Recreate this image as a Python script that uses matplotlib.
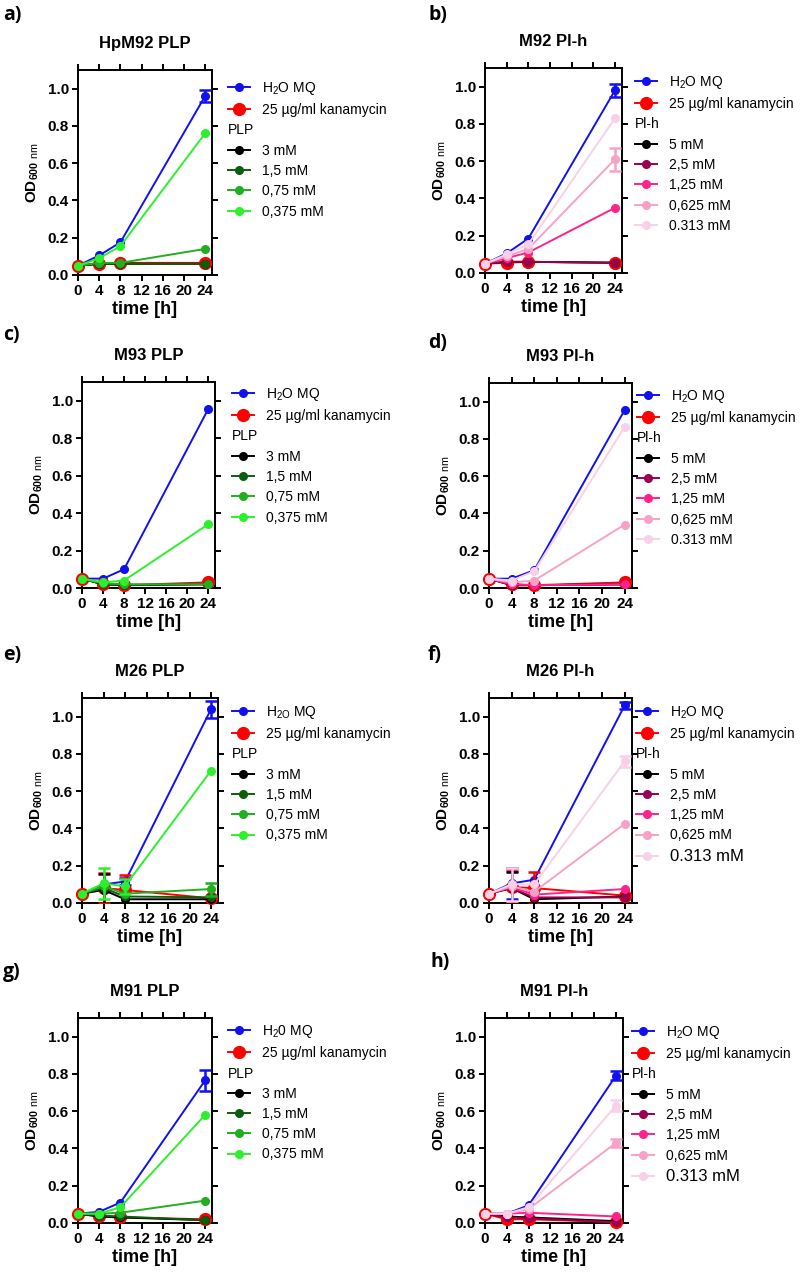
import numpy as np
import matplotlib
matplotlib.use('Agg')
import matplotlib.pyplot as plt
from matplotlib.lines import Line2D
from matplotlib.text import Text
from matplotlib.legend_handler import HandlerBase

plt.rcParams['font.family'] = ['Liberation Sans', 'DejaVu Sans']
plt.rcParams['mathtext.fontset'] = 'custom'
plt.rcParams['mathtext.rm'] = 'Liberation Sans'
plt.rcParams['mathtext.bf'] = 'Liberation Sans:bold'
plt.rcParams['mathtext.default'] = 'regular'

# данные: время и значения OD600
time_h = [0, 4, 8, 24]
xticks = [0, 4, 8, 12, 16, 20, 24]
yticks = [0.0, 0.2, 0.4, 0.6, 0.8, 1.0]

plp_labels = ['3 mM', '1,5 mM', '0,75 mM', '0,375 mM']
plh_labels = ['5 mM', '2,5 mM', '1,25 mM', '0,625 mM', '0.313 mM']
kana_label = '25 µg/ml kanamycin'

# a) HpM92 PLP
a_water = [0.05, 0.105, 0.175, 0.96]
a_water_err = [0, 0, 0, 0.03]
a_kana = [0.05, 0.06, 0.065, 0.065]
a_kana_err = [0, 0, 0, 0]
a_conc = [[0.05, 0.06, 0.06, 0.06],
          [0.05, 0.06, 0.06, 0.06],
          [0.05, 0.065, 0.065, 0.14],
          [0.05, 0.09, 0.155, 0.76]]
a_conc_err = [[0, 0, 0, 0], [0, 0, 0, 0], [0, 0, 0, 0], [0, 0, 0, 0]]

# b) M92 Pl-h
b_water = [0.05, 0.105, 0.185, 0.98]
b_water_err = [0, 0, 0, 0.035]
b_kana = [0.05, 0.055, 0.06, 0.055]
b_kana_err = [0, 0, 0, 0]
b_conc = [[0.05, 0.06, 0.06, 0.055],
          [0.05, 0.06, 0.06, 0.055],
          [0.05, 0.08, 0.11, 0.35],
          [0.05, 0.09, 0.13, 0.61],
          [0.05, 0.10, 0.155, 0.83]]
b_conc_err = [[0, 0, 0, 0], [0, 0, 0, 0], [0, 0, 0, 0], [0, 0, 0, 0.06], [0, 0, 0, 0]]

# c) M93 PLP
c_water = [0.05, 0.05, 0.10, 0.955]
c_water_err = [0, 0, 0, 0]
c_kana = [0.05, 0.02, 0.015, 0.03]
c_kana_err = [0, 0, 0, 0]
c_conc = [[0.05, 0.02, 0.015, 0.02],
          [0.05, 0.02, 0.015, 0.02],
          [0.05, 0.025, 0.02, 0.02],
          [0.05, 0.03, 0.04, 0.34]]
c_conc_err = [[0, 0, 0, 0], [0, 0, 0, 0], [0, 0, 0, 0], [0, 0, 0, 0]]

# d) M93 Pl-h
d_water = [0.05, 0.05, 0.095, 0.955]
d_water_err = [0, 0, 0, 0]
d_kana = [0.05, 0.02, 0.015, 0.03]
d_kana_err = [0, 0, 0, 0]
d_conc = [[0.05, 0.015, 0.015, 0.02],
          [0.05, 0.015, 0.015, 0.02],
          [0.05, 0.02, 0.015, 0.02],
          [0.05, 0.03, 0.04, 0.34],
          [0.05, 0.04, 0.09, 0.865]]
d_conc_err = [[0, 0, 0, 0], [0, 0, 0, 0], [0, 0, 0, 0], [0, 0, 0, 0], [0, 0, 0, 0]]

# e) M26 PLP
e_water = [0.05, 0.10, 0.115, 1.04]
e_water_err = [0, 0, 0.02, 0.045]
e_kana = [0.05, 0.08, 0.07, 0.025]
e_kana_err = [0, 0.08, 0.08, 0]
e_conc = [[0.05, 0.07, 0.02, 0.02],
          [0.05, 0.08, 0.035, 0.03],
          [0.05, 0.09, 0.05, 0.075],
          [0.05, 0.105, 0.09, 0.71]]
e_conc_err = [[0, 0.085, 0, 0], [0, 0, 0, 0], [0, 0, 0, 0.035], [0, 0.085, 0.04, 0]]

# f) M26 Pl-h
f_water = [0.05, 0.105, 0.125, 1.06]
f_water_err = [0, 0.085, 0, 0.02]
f_kana = [0.05, 0.085, 0.08, 0.04]
f_kana_err = [0, 0.085, 0.085, 0]
f_conc = [[0.05, 0.08, 0.02, 0.035],
          [0.05, 0.08, 0.03, 0.03],
          [0.05, 0.085, 0.045, 0.075],
          [0.05, 0.09, 0.06, 0.425],
          [0.05, 0.10, 0.10, 0.76]]
f_conc_err = [[0, 0.085, 0, 0], [0, 0, 0, 0], [0, 0, 0, 0], [0, 0, 0, 0], [0, 0.09, 0, 0.03]]

# g) M91 PLP
g_water = [0.05, 0.06, 0.11, 0.765]
g_water_err = [0, 0, 0, 0.055]
g_kana = [0.05, 0.035, 0.03, 0.02]
g_kana_err = [0, 0, 0, 0]
g_conc = [[0.05, 0.035, 0.03, 0.015],
          [0.05, 0.04, 0.035, 0.015],
          [0.05, 0.05, 0.055, 0.12],
          [0.05, 0.05, 0.085, 0.58]]
g_conc_err = [[0, 0, 0, 0], [0, 0, 0, 0], [0, 0, 0, 0], [0, 0, 0, 0]]

# h) M91 Pl-h
h_water = [0.05, 0.05, 0.095, 0.79]
h_water_err = [0, 0, 0, 0.025]
h_kana = [0.05, 0.02, 0.02, 0.005]
h_kana_err = [0, 0, 0, 0]
h_conc = [[0.05, 0.035, 0.03, 0.01],
          [0.05, 0.03, 0.025, 0.005],
          [0.05, 0.05, 0.055, 0.035],
          [0.05, 0.05, 0.075, 0.43],
          [0.05, 0.05, 0.085, 0.63]]
h_conc_err = [[0, 0, 0, 0], [0, 0, 0, 0], [0, 0, 0, 0], [0, 0, 0, 0.02], [0, 0, 0, 0.03]]

# цвета
blue = '#1010f0'
red = '#ff0000'
plp_colors = ['black', '#0b5e0b', '#1faf1f', '#2cf02c']
plh_colors = ['black', '#990050', '#ff2288', '#f7a1c9', '#f8d0e8']

W, H = 800, 1273
fig = plt.figure(figsize=(W / 100, H / 100), dpi=100)


def rect(l, r, t, b):
    return [l / W, 1 - b / H, (r - l) / W, (b - t) / H]


class HeaderHandler(HandlerBase):
    # заголовок группы в легенде (PLP / Pl-h), выровнен по началу маркеров
    def create_artists(self, legend, orig_handle, xdescent, ydescent,
                       width, height, fontsize, trans):
        t = Text(-xdescent, 0, orig_handle.get_text(), fontsize=fontsize,
                 ha='left', va='baseline', transform=trans)
        return [t]


def series(ax, y, err, color, ms, z):
    y = np.array(y)
    err = np.array(err)
    ax.plot(time_h, y, color=color, marker='o', ms=ms, lw=1.4,
            mec=color, clip_on=False, zorder=z)
    m = err > 0
    if m.any():
        ax.errorbar(np.array(time_h)[m], y[m], yerr=err[m], fmt='none',
                    ecolor=color, elinewidth=1.8, capsize=4, capthick=1.8,
                    zorder=z)


def panel(box, title, water, water_err, kana, kana_err, conc, conc_err,
          labels, colors, header, water_label, leg_xy, big_last=False):
    ax = fig.add_axes(rect(*box))
    series(ax, water, water_err, blue, 5.5, 3)
    series(ax, kana, kana_err, red, 8.5, 4)
    for i, (y, e, c) in enumerate(zip(conc, conc_err, colors)):
        series(ax, y, e, c, 5.5, 5 + i)

    ax.set_xlim(0, 25.3)
    ax.set_ylim(0, 1.1)
    ax.set_xticks(xticks)
    ax.set_yticks(yticks)
    ax.set_yticklabels(['%.1f' % v for v in yticks])
    ax.tick_params(direction='out', top=True, right=True, labeltop=False,
                   labelright=False, length=4.5, width=1.4, labelsize=11, pad=2)
    for lab in ax.get_xticklabels() + ax.get_yticklabels():
        lab.set_fontweight('bold')
    for s in ax.spines.values():
        s.set_linewidth(1.4)
    ax.set_title(title, fontsize=12, fontweight='bold', pad=16)
    ax.set_xlabel('time [h]', fontsize=13, fontweight='bold', labelpad=2)
    ax.set_ylabel(r'OD$_{\mathbf{600}\ \mathrm{nm}}$', fontsize=11,
                  fontweight='bold', labelpad=5)

    hdr = Text(text=header)
    handles = [Line2D([], [], color=blue, marker='o', ms=5.5, lw=1.4),
               Line2D([], [], color=red, marker='o', ms=8.5, lw=1.4),
               hdr]
    handles += [Line2D([], [], color=c, marker='o', ms=5.5, lw=1.4) for c in colors]
    leg = ax.legend(handles, [water_label, kana_label, ''] + labels,
                    handler_map={hdr: HeaderHandler()},
                    loc='upper left', bbox_to_anchor=(leg_xy[0] / W, 1 - leg_xy[1] / H),
                    bbox_transform=fig.transFigure, frameon=False, fontsize=10,
                    handlelength=1.6, handletextpad=0.85, labelspacing=0.45,
                    borderpad=0, borderaxespad=0)
    if big_last:
        leg.get_texts()[-1].set_fontsize(12)
    return ax


panel((78, 212, 70, 275), 'HpM92 PLP', a_water, a_water_err, a_kana, a_kana_err,
      a_conc, a_conc_err, plp_labels, plp_colors, 'PLP', 'H$_2$O MQ', (228, 80))
panel((485, 622, 68, 273), 'M92 Pl-h', b_water, b_water_err, b_kana, b_kana_err,
      b_conc, b_conc_err, plh_labels, plh_colors, 'Pl-h', 'H$_2$O MQ', (635, 74))
panel((82, 215, 382, 588), 'M93 PLP', c_water, c_water_err, c_kana, c_kana_err,
      c_conc, c_conc_err, plp_labels, plp_colors, 'PLP', 'H$_2$O MQ', (232, 386))
panel((489, 632, 383, 588), 'M93 Pl-h', d_water, d_water_err, d_kana, d_kana_err,
      d_conc, d_conc_err, plh_labels, plh_colors, 'Pl-h', 'H$_2$O MQ', (637, 388))
panel((82, 218, 698, 903), 'M26 PLP', e_water, e_water_err, e_kana, e_kana_err,
      e_conc, e_conc_err, plp_labels, plp_colors, 'PLP', 'H$_{2O}$ MQ', (232, 704))
panel((489, 632, 698, 903), 'M26 Pl-h', f_water, f_water_err, f_kana, f_kana_err,
      f_conc, f_conc_err, plh_labels, plh_colors, 'Pl-h', 'H$_2$O MQ', (636, 704), big_last=True)
panel((78, 212, 1018, 1223), 'M91 PLP', g_water, g_water_err, g_kana, g_kana_err,
      g_conc, g_conc_err, plp_labels, plp_colors, 'PLP', 'H$_2$0 MQ', (228, 1023))
panel((485, 623, 1018, 1223), 'M91 Pl-h', h_water, h_water_err, h_kana, h_kana_err,
      h_conc, h_conc_err, plh_labels, plh_colors, 'Pl-h', 'H$_2$O MQ', (632, 1024), big_last=True)

# буквы панелей
letters = ['a)', 'b)', 'c)', 'd)', 'e)', 'f)', 'g)', 'h)']
letter_xy = [(3, 15), (428, 15), (3, 335), (428, 343), (3, 655), (428, 655), (3, 972), (430, 962)]
for s, (x, y) in zip(letters, letter_xy):
    fig.text(x / W, 1 - y / H, s, fontsize=14, fontweight='bold',
             family='Open Sans', ha='left', va='center')

fig.savefig('out.png', dpi=100)
